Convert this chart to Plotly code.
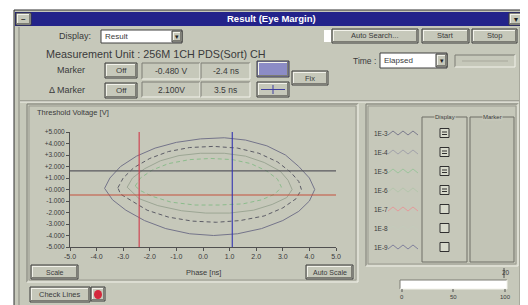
import plotly.graph_objects as go

# ---------------- data ----------------
x_tick_vals = [-5.0, -4.0, -3.0, -2.0, -1.0, 0.0, 1.0, 2.0, 3.0, 4.0, 5.0]
x_tick_labels = ["-5.0", "-4.0", "-3.0", "-2.0", "-1.0", "0.0", "1.0", "2.0", "3.0", "4.0", "5.0"]
y_tick_vals = [5, 4, 3, 2, 1, 0, -1, -2, -3, -4, -5]
y_tick_labels = ["+5.000", "+4.000", "+3.000", "+2.000", "+1.000", "+0.000",
                 "-1.000", "-2.000", "-3.000", "-4.000", "-5.000"]

ber_levels = ["1E-3", "1E-4", "1E-5", "1E-6", "1E-7", "1E-8", "1E-9"]
ber_display = [True, True, True, True, False, False, False]

# eye contours (phase ns, threshold V)
c1e3_x = [-3.7, -3.5, -3.1, -2.5, -1.8, -1.0, -0.1, 0.8, 1.6, 2.4, 3.1, 3.6, 4.0, 4.2,
          4.0, 3.6, 3.0, 2.2, 1.3, 0.4, -0.5, -1.4, -2.2, -2.9, -3.4, -3.7]
c1e3_y = [0.1, 1.0, 2.0, 2.9, 3.6, 4.1, 4.4, 4.5, 4.3, 3.8, 3.0, 2.0, 1.0, 0.0,
          -1.0, -1.9, -2.7, -3.4, -3.85, -4.0, -3.85, -3.4, -2.7, -1.8, -0.9, 0.1]

c1e4_x = [-3.2, -3.0, -2.6, -2.0, -1.3, -0.5, 0.4, 1.3, 2.1, 2.8, 3.3, 3.6, 3.7,
          3.5, 3.0, 2.3, 1.4, 0.5, -0.4, -1.3, -2.1, -2.7, -3.1, -3.2]
c1e4_y = [0.15, 1.0, 1.9, 2.7, 3.3, 3.65, 3.75, 3.6, 3.15, 2.4, 1.5, 0.7, 0.0,
          -0.8, -1.6, -2.3, -2.7, -2.85, -2.75, -2.4, -1.8, -1.0, -0.4, 0.15]

c1e5_x = [-2.85, -2.65, -2.2, -1.6, -0.9, -0.1, 0.8, 1.6, 2.3, 2.9, 3.2, 3.35,
          3.15, 2.6, 1.9, 1.0, 0.1, -0.8, -1.7, -2.4, -2.85]
c1e5_y = [0.2, 1.0, 1.8, 2.5, 2.95, 3.15, 3.15, 2.9, 2.35, 1.6, 0.8, 0.0,
          -0.7, -1.3, -1.8, -2.05, -2.05, -1.85, -1.4, -0.8, 0.2]

c1e6_x = [-2.55, -2.35, -1.9, -1.3, -0.5, 0.3, 1.1, 1.8, 2.4, 2.8, 2.95,
          2.7, 2.2, 1.5, 0.6, -0.3, -1.2, -1.9, -2.35, -2.55]
c1e6_y = [0.3, 1.0, 1.7, 2.25, 2.6, 2.7, 2.6, 2.25, 1.6, 0.9, 0.2,
          -0.4, -0.9, -1.25, -1.35, -1.35, -1.1, -0.6, -0.1, 0.3]

marker_voltage = -0.480
marker_phase = -2.4
delta_voltage = 2.100
delta_phase = 3.5

# ---------------- helpers (page pixel -> paper) ----------------
# the page body has an 8px default margin, so page pixel p maps to figure pixel p - 8
W, H = 528, 305
OFF = 8
BG = "#c6c8ba"
TXT = "#3a3a3a"
FONT = "Liberation Sans, Arial, sans-serif"
LIGHT = "#f2f2ea"
DARK = "#7c7c74"


def fx(x):
    return (x - OFF) / W


def fy(y):
    return 1 - (y - OFF) / H


shapes = []
annotations = []


def rect(x0, y0, x1, y1, fill=None, line=None, lw=1):
    shapes.append(dict(type="rect", xref="paper", yref="paper",
                       x0=fx(x0), x1=fx(x1), y0=fy(y1), y1=fy(y0),
                       fillcolor=fill if fill else "rgba(0,0,0,0)",
                       line=dict(color=line if line else "rgba(0,0,0,0)", width=lw if line else 0),
                       layer="below"))


def hl(x0, x1, y, color, lw=1):
    shapes.append(dict(type="line", xref="paper", yref="paper", x0=fx(x0), x1=fx(x1),
                       y0=fy(y), y1=fy(y), line=dict(color=color, width=lw), layer="below"))


def vl(x, y0, y1, color, lw=1):
    shapes.append(dict(type="line", xref="paper", yref="paper", x0=fx(x), x1=fx(x),
                       y0=fy(y0), y1=fy(y1), line=dict(color=color, width=lw), layer="below"))


def raised(x0, y0, x1, y1, fill=BG, border="#3a3a3a"):
    rect(x0, y0, x1, y1, fill, border)
    hl(x0 + 1, x1 - 1, y0 + 1.5, LIGHT)
    vl(x0 + 1.5, y0 + 1, y1 - 1, LIGHT)
    hl(x0 + 1, x1 - 1, y1 - 1.5, DARK)
    vl(x1 - 1.5, y0 + 1, y1 - 1, DARK)


def sunken(x0, y0, x1, y1, fill=BG):
    rect(x0, y0, x1, y1, fill)
    hl(x0, x1, y0, DARK)
    vl(x0, y0, y1, DARK)
    hl(x0, x1, y1, LIGHT)
    vl(x1, y0, y1, LIGHT)


def text(x, y, s, size=8, color=TXT, anchor="left", bold=False, bg=None):
    a = dict(xref="paper", yref="paper", x=fx(x), y=fy(y), text=("<b>%s</b>" % s) if bold else s,
             showarrow=False, xanchor=anchor, yanchor="middle", borderpad=0,
             font=dict(size=size, color=color, family=FONT))
    if bg:
        a["bgcolor"] = bg
    annotations.append(a)


def path(points, color, lw=1):
    d = "M " + " L ".join("%f,%f" % (fx(px), fy(py)) for px, py in points)
    shapes.append(dict(type="path", xref="paper", yref="paper", path=d,
                       line=dict(color=color, width=lw), layer="below"))


# ---------------- window chrome ----------------
rect(14, 10, 525, 306, BG, "#2e2e2e")
vl(19, 27, 305, "#8a8a80")
vl(520, 27, 305, "#8a8a80")
rect(15, 12, 524, 26, "#23238a")
raised(16, 13, 31, 25)
text(23.5, 19, "–", 8, "#202020", "center", True)
raised(509, 13, 523, 25)
text(516, 19.5, "▾", 8, "#202020", "center")
text(271, 19, "Result (Eye Margin)", 9.5, "#ffffff", "center", True)

# Row 1
text(92, 36, "Display:", 9, TXT, "right")
rect(101, 30, 182, 43, "#ffffff", "#404040")
text(104, 36.5, "Result", 8)
raised(172, 31, 182, 42)
text(177, 36.5, "▾", 7, "#202020", "center")
rect(324, 30, 331, 42, "#ffffff")
raised(332, 29, 418, 43)
text(375, 36, "Auto Search...", 7.5, TXT, "center")
raised(422, 29, 469, 43)
text(445.5, 36, "Start", 7.5, TXT, "center")
raised(472, 29, 517, 43)
text(494.5, 36, "Stop", 7.5, TXT, "center")

# Row 2
text(45, 54, "Measurement Unit : 256M 1CH PDS(Sort) CH", 10.8)
text(377, 61, "Time :", 8.5, TXT, "right")
rect(380, 53, 447, 68, "#ffffff", "#404040")
text(383, 60.5, "Elapsed", 8)
raised(436, 54, 447, 67)
text(441.5, 60.5, "▾", 7, "#202020", "center")
sunken(455, 55, 515, 67)
hl(462, 508, 61, "#a8a89c")

# Marker rows
text(86, 70, "Marker", 9, TXT, "right")
raised(105, 63, 137, 78)
text(121, 70.5, "Off", 8, TXT, "center")
sunken(142, 63, 200, 79)
text(171, 71, "%.3f V" % marker_voltage, 8.5, TXT, "center")
sunken(201, 63, 250, 79)
text(225.5, 71, "%.1f ns" % marker_phase, 8.5, TXT, "center")
raised(257, 61, 289, 77, "#8c8cc6")

text(86, 90, "Δ Marker", 9, TXT, "right")
raised(105, 83, 137, 98)
text(121, 90.5, "Off", 8, TXT, "center")
sunken(142, 82, 200, 97)
text(171, 89.5, "%.3fV" % delta_voltage, 8.5, TXT, "center")
sunken(201, 82, 250, 97)
text(225.5, 89.5, "%.1f ns" % delta_phase, 8.5, TXT, "center")
raised(257, 82, 289, 97)
hl(261, 285, 89.5, "#4040a0")
vl(273, 85, 94, "#4040a0")
raised(292, 71, 328, 85)
text(310, 78, "Fix", 7.5, TXT, "center")

hl(20, 519, 101, DARK)
hl(20, 519, 102, LIGHT)

# graph panel
sunken(27, 104, 358, 282)
rect(29, 106, 356, 280, None, "#9a9a90")
text(36, 112, "Threshold Voltage [V]", 7.5)
raised(31, 265, 78, 279)
text(54.5, 272, "Scale", 7, TXT, "center")
raised(306, 265, 353, 279)
text(329.5, 272, "Auto Scale", 7, TXT, "center")
text(203, 272, "Phase [ns]", 7.5, TXT, "center")

# Check lines
raised(30, 287, 90, 302)
text(60, 294.5, "Check Lines", 7.5, TXT, "center")
raised(91, 287, 105, 301)
shapes.append(dict(type="circle", xref="paper", yref="paper", x0=fx(94), x1=fx(102),
                   y0=fy(299), y1=fy(290), fillcolor="#d4283c", line=dict(width=0), layer="below"))

# legend panel
sunken(366, 104, 518, 266)
rect(368, 106, 516, 264, None, "#9a9a90")
rect(422, 117, 467, 262, None, "#6e6e66")
rect(470, 117, 514, 262, "#c2c4b6", "#6e6e66")
text(444.5, 117, "Display", 6, TXT, "center", bg=BG)
text(492, 117, "Marker", 6, TXT, "center", bg=BG)

icon_colors = ["#7a7a8c", "#a2a2aa", "#9cc49c", "#b4c6ac", "#e49a9a", "#c4ccbc", "#80809c"]
zig = [(0, 2), (5, -2), (10, 2), (15, -2), (20, 2), (25, -2), (30, 2)]
for i, (lab, on) in enumerate(zip(ber_levels, ber_display)):
    yy = 133 + 19 * i
    text(373, yy, lab, 6.5)
    path([(388 + dx, yy + dy) for dx, dy in zig], icon_colors[i], 1)
    rect(440, yy - 4.5, 449, yy + 4.5, "#d8dacc", "#303030")
    if on:
        hl(442, 447, yy - 1, "#303030")
        hl(442, 447, yy + 1.5, "#303030")

# slider
text(506, 272, "20", 6.5, TXT, "center")
vl(504, 268, 278, "#505050")
sunken(400, 280, 507, 289, "#ffffff")
for xv, lab in [(402, "0"), (453, "50"), (505, "100")]:
    vl(xv, 289, 292, "#505050")
    text(xv, 297, lab, 6, TXT, "center")

# ---------------- traces ----------------
fig = go.Figure()
contours = [
    (c1e3_x, c1e3_y, "#74748a", "solid", 1.0, "1E-3"),
    (c1e4_x, c1e4_y, "#5c5c66", "4px,3px", 1.0, "1E-4"),
    (c1e5_x, c1e5_y, "#9ca694", "solid", 1.0, "1E-5"),
    (c1e6_x, c1e6_y, "#8cbc8c", "4px,3px", 1.0, "1E-6"),
]
for cx, cy, col, dash, w, name in contours:
    fig.add_trace(go.Scatter(x=cx, y=cy, mode="lines", name=name,
                             line=dict(color=col, dash=dash, width=w), hoverinfo="skip"))

xr = [x_tick_vals[0], x_tick_vals[-1]]
yr = [y_tick_vals[-1], y_tick_vals[0]]
fig.add_trace(go.Scatter(x=xr, y=[marker_voltage + delta_voltage] * 2, mode="lines",
                         line=dict(color="#58585e", width=1.1), hoverinfo="skip"))
fig.add_trace(go.Scatter(x=xr, y=[marker_voltage] * 2, mode="lines",
                         line=dict(color="#c4503c", width=1.1), hoverinfo="skip"))
fig.add_trace(go.Scatter(x=[marker_phase] * 2, y=yr, mode="lines",
                         line=dict(color="#d03a4a", width=1.1), hoverinfo="skip"))
fig.add_trace(go.Scatter(x=[marker_phase + delta_phase] * 2, y=yr, mode="lines",
                         line=dict(color="#3434b0", width=1.1), hoverinfo="skip"))

fig.update_layout(
    width=W, height=H, margin=dict(l=0, r=0, t=0, b=0, autoexpand=False),
    paper_bgcolor="#ffffff", plot_bgcolor="rgba(0,0,0,0)",
    showlegend=False, shapes=shapes, annotations=annotations,
    xaxis=dict(domain=[fx(70), fx(336)], range=xr, tickvals=x_tick_vals, ticktext=x_tick_labels,
               showgrid=False, zeroline=False, showline=True, linecolor="#505050",
               ticks="outside", ticklen=3, tickcolor="#505050", automargin=False,
               tickfont=dict(size=7, color=TXT, family=FONT), fixedrange=True),
    yaxis=dict(domain=[fy(247), fy(132)], range=yr, tickvals=y_tick_vals, ticktext=y_tick_labels,
               showgrid=False, zeroline=False, showline=True, linecolor="#505050",
               ticks="outside", ticklen=3, tickcolor="#505050", automargin=False,
               tickfont=dict(size=6.5, color=TXT, family=FONT), fixedrange=True),
)

fig.write_html("out.html")
